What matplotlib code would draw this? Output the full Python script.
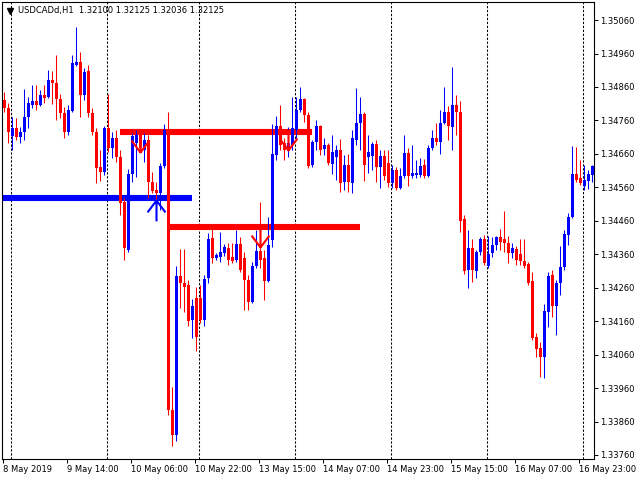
import numpy as np
import matplotlib
matplotlib.use("Agg")
import matplotlib.pyplot as plt
from matplotlib.path import Path
from matplotlib.lines import Line2D

# USDCADd H1 bars, 8 May 2019 22:00 .. 17 May 02:00
Open = [1.34821, 1.34797, 1.34713, 1.34737, 1.34710, 1.34725, 1.34770, 1.34806, 1.34818, 1.34806, 1.34836, 1.34830,
        1.34881, 1.34872, 1.34824, 1.34782, 1.34725, 1.34788, 1.34926, 1.34935, 1.34836, 1.34908, 1.34782, 1.34725,
        1.34621, 1.34606, 1.34737, 1.34677, 1.34707, 1.34651, 1.34516, 1.34373, 1.34600, 1.34692, 1.34716, 1.34672,
        1.34701, 1.34576, 1.34552, 1.34543, 1.34624, 1.34731, 1.33894, 1.33819, 1.34295, 1.34274, 1.34268, 1.34163,
        1.34229, 1.34229, 1.34163, 1.34289, 1.34408, 1.34349, 1.34352, 1.34364, 1.34378, 1.34352, 1.34343, 1.34390,
        1.34349, 1.34283, 1.34217, 1.34325, 1.34370, 1.34349, 1.34280, 1.34402, 1.34657, 1.34743, 1.34692, 1.34672,
        1.34686, 1.34731, 1.34791, 1.34824, 1.34776, 1.34627, 1.34695, 1.34743, 1.34674, 1.34686, 1.34630, 1.34651,
        1.34672, 1.34576, 1.34627, 1.34573, 1.34701, 1.34752, 1.34779, 1.34651, 1.34654, 1.34689, 1.34621, 1.34654,
        1.34633, 1.34573, 1.34612, 1.34558, 1.34594, 1.34663, 1.34594, 1.34597, 1.34597, 1.34627, 1.34594, 1.34677,
        1.34707, 1.34695, 1.34752, 1.34785, 1.34740, 1.34806, 1.34785, 1.34465, 1.34313, 1.34378, 1.34310, 1.34367,
        1.34405, 1.34325, 1.34364, 1.34387, 1.34411, 1.34405, 1.34393, 1.34364, 1.34375, 1.34361, 1.34340, 1.34331,
        1.34280, 1.34112, 1.34079, 1.34053, 1.34187, 1.34298, 1.34205, 1.34274, 1.34322, 1.34417, 1.34471, 1.34600,
        1.34588, 1.34564, 1.34579, 1.34597]
High = [1.34845, 1.34812, 1.34770, 1.34767, 1.34740, 1.34854, 1.34830, 1.34866, 1.34866, 1.34851, 1.34866, 1.34911,
        1.34908, 1.34956, 1.34839, 1.34800, 1.34806, 1.34956, 1.35039, 1.34965, 1.34917, 1.34926, 1.34797, 1.34737,
        1.34672, 1.34743, 1.34839, 1.34725, 1.34731, 1.34672, 1.34528, 1.34615, 1.34722, 1.34731, 1.34731, 1.34722,
        1.34716, 1.34606, 1.34576, 1.34633, 1.34749, 1.34785, 1.33963, 1.34325, 1.34375, 1.34375, 1.34283, 1.34226,
        1.34262, 1.34268, 1.34298, 1.34423, 1.34438, 1.34364, 1.34426, 1.34390, 1.34393, 1.34393, 1.34432, 1.34411,
        1.34367, 1.34298, 1.34337, 1.34432, 1.34516, 1.34373, 1.34471, 1.34749, 1.34773, 1.34806, 1.34707, 1.34740,
        1.34830, 1.34830, 1.34860, 1.34827, 1.34785, 1.34701, 1.34761, 1.34746, 1.34707, 1.34692, 1.34716, 1.34686,
        1.34704, 1.34657, 1.34660, 1.34731, 1.34857, 1.34830, 1.34785, 1.34716, 1.34695, 1.34701, 1.34672, 1.34672,
        1.34672, 1.34627, 1.34621, 1.34618, 1.34716, 1.34677, 1.34686, 1.34642, 1.34648, 1.34645, 1.34686, 1.34731,
        1.34752, 1.34791, 1.34860, 1.34803, 1.34920, 1.34836, 1.34818, 1.34477, 1.34432, 1.34405, 1.34373, 1.34411,
        1.34417, 1.34414, 1.34411, 1.34414, 1.34435, 1.34489, 1.34414, 1.34393, 1.34384, 1.34405, 1.34405, 1.34337,
        1.34307, 1.34124, 1.34097, 1.34211, 1.34307, 1.34313, 1.34283, 1.34384, 1.34432, 1.34483, 1.34683, 1.34680,
        1.34642, 1.34627, 1.34612, 1.34627]
Low = [1.34785, 1.34692, 1.34672, 1.34701, 1.34692, 1.34701, 1.34737, 1.34797, 1.34791, 1.34803, 1.34812, 1.34827,
       1.34809, 1.34761, 1.34767, 1.34707, 1.34716, 1.34785, 1.34923, 1.34770, 1.34821, 1.34770, 1.34716, 1.34573,
       1.34579, 1.34597, 1.34666, 1.34648, 1.34636, 1.34477, 1.34343, 1.34367, 1.34576, 1.34591, 1.34666, 1.34636,
       1.34528, 1.34543, 1.34462, 1.34492, 1.34618, 1.33879, 1.33786, 1.33801, 1.34199, 1.34187, 1.34145, 1.34109,
       1.34071, 1.34154, 1.34145, 1.34274, 1.34334, 1.34343, 1.34337, 1.34355, 1.34328, 1.34334, 1.34337, 1.34307,
       1.34193, 1.34193, 1.34214, 1.34319, 1.34319, 1.34223, 1.34277, 1.34381, 1.34642, 1.34672, 1.34642, 1.34651,
       1.34672, 1.34701, 1.34785, 1.34755, 1.34618, 1.34621, 1.34672, 1.34657, 1.34657, 1.34627, 1.34600, 1.34582,
       1.34546, 1.34552, 1.34546, 1.34543, 1.34686, 1.34672, 1.34579, 1.34603, 1.34612, 1.34576, 1.34558, 1.34582,
       1.34561, 1.34558, 1.34552, 1.34555, 1.34588, 1.34564, 1.34588, 1.34588, 1.34591, 1.34588, 1.34591, 1.34672,
       1.34686, 1.34660, 1.34749, 1.34701, 1.34672, 1.34716, 1.34426, 1.34301, 1.34259, 1.34277, 1.34289, 1.34358,
       1.34328, 1.34319, 1.34352, 1.34373, 1.34373, 1.34367, 1.34334, 1.34349, 1.34328, 1.34328, 1.34319, 1.34268,
       1.34103, 1.34053, 1.33993, 1.33990, 1.34142, 1.34172, 1.34118, 1.34238, 1.34313, 1.34387, 1.34468, 1.34576,
       1.34567, 1.34552, 1.34555, 1.34576]
Close = [1.34797, 1.34725, 1.34737, 1.34710, 1.34725, 1.34770, 1.34812, 1.34818, 1.34806, 1.34836, 1.34827, 1.34881,
         1.34872, 1.34824, 1.34782, 1.34725, 1.34791, 1.34932, 1.34935, 1.34836, 1.34905, 1.34782, 1.34725, 1.34618,
         1.34606, 1.34737, 1.34677, 1.34707, 1.34651, 1.34513, 1.34378, 1.34600, 1.34713, 1.34716, 1.34677, 1.34701,
         1.34576, 1.34549, 1.34543, 1.34624, 1.34731, 1.33894, 1.33819, 1.34295, 1.34274, 1.34262, 1.34160, 1.34205,
         1.34112, 1.34163, 1.34286, 1.34405, 1.34349, 1.34358, 1.34367, 1.34381, 1.34343, 1.34340, 1.34390, 1.34313,
         1.34283, 1.34217, 1.34325, 1.34370, 1.34343, 1.34280, 1.34387, 1.34660, 1.34743, 1.34686, 1.34672, 1.34692,
         1.34737, 1.34791, 1.34824, 1.34776, 1.34624, 1.34695, 1.34743, 1.34672, 1.34686, 1.34633, 1.34666, 1.34672,
         1.34573, 1.34627, 1.34576, 1.34707, 1.34752, 1.34779, 1.34627, 1.34666, 1.34689, 1.34621, 1.34654, 1.34594,
         1.34573, 1.34612, 1.34558, 1.34594, 1.34663, 1.34594, 1.34603, 1.34603, 1.34624, 1.34594, 1.34677, 1.34707,
         1.34695, 1.34752, 1.34785, 1.34743, 1.34806, 1.34785, 1.34459, 1.34310, 1.34378, 1.34313, 1.34367, 1.34405,
         1.34334, 1.34361, 1.34387, 1.34411, 1.34396, 1.34393, 1.34364, 1.34378, 1.34343, 1.34340, 1.34325, 1.34274,
         1.34109, 1.34076, 1.34053, 1.34190, 1.34295, 1.34205, 1.34274, 1.34322, 1.34420, 1.34471, 1.34600, 1.34582,
         1.34573, 1.34582, 1.34600, 1.34624]

TickBars = [0, 16, 32, 48, 64, 80, 96, 112, 128, 144]
TickLabels = ['8 May 2019', '9 May 14:00', '10 May 06:00', '10 May 22:00', '13 May 15:00',
              '14 May 07:00', '14 May 23:00', '15 May 15:00', '16 May 07:00', '16 May 23:00']
DayStart = [2, 26, 49, 73, 97, 121, 145]
PriceTicks = [1.33760, 1.33860, 1.33960, 1.34060, 1.34160, 1.34260, 1.34360,
              1.34460, 1.34560, 1.34660, 1.34760, 1.34860, 1.34960, 1.35060]

# horizontal levels drawn by the indicator
LineStart = [-2, 29, 41]
LineEnd = [47, 77, 89]
LinePrice = [1.34528, 1.34725, 1.34440]
LineColor = ['#0000FF', '#FF0000', '#FF0000']

# signal arrows
ArrowBar = [38, 34, 64, 71]
ArrowPrice = [1.34522, 1.34666, 1.34381, 1.34672]
ArrowUp = [True, False, False, False]

Title = "USDCADd,H1  1.32100 1.32125 1.32036 1.32125"

o = np.array(Open); h = np.array(High); l = np.array(Low); c = np.array(Close)
x = np.arange(len(o))
col = np.where(c >= o, '#0000FF', '#FF0000')

fig = plt.figure(figsize=(6.4, 4.8), dpi=100)
ax = fig.add_axes([2/640, 21/480, 592/640, 457/480])

for d in DayStart:
    ax.axvline(d - 0.25, color='black', lw=0.75, ls=(0, (2.2, 1.6)), zorder=0.5)

ax.hlines(LinePrice, LineStart, LineEnd, colors=LineColor, lw=4.4, capstyle='butt', zorder=1)

ax.vlines(x, l, h, colors=col, lw=0.75, zorder=2)
body_h = np.maximum(np.abs(c - o), 0.00002)
ax.bar(x, body_h, bottom=np.minimum(o, c), width=0.75, color=col, linewidth=0, zorder=3)

up_path = Path([(-9, -12), (0, 0), (9, -12), (0, 0), (0, -21)],
               [Path.MOVETO, Path.LINETO, Path.LINETO, Path.MOVETO, Path.LINETO])
dn_path = Path([(-9, 12), (0, 0), (9, 12), (0, 0), (0, 21)],
               [Path.MOVETO, Path.LINETO, Path.LINETO, Path.MOVETO, Path.LINETO])
for b, p, u in zip(ArrowBar, ArrowPrice, ArrowUp):
    ax.plot([b], [p], marker=up_path if u else dn_path, ms=30, mfc='none',
            mec='#0000FF' if u else '#FF0000', mew=1.5, ls='none', zorder=4)

ax.set_xlim(-0.5, 147.5)
ax.set_ylim(1.33748, 1.35114)

ax.yaxis.tick_right()
ax.set_yticks(PriceTicks)
ax.set_yticklabels(['%.5f' % p for p in PriceTicks])
ax.set_xticks([b - 0.25 for b in TickBars])
ax.set_xticklabels(TickLabels, ha='left')
ax.tick_params(axis='both', direction='out', length=3, width=0.75, labelsize=6, colors='black')
ax.tick_params(axis='y', pad=1.5)
ax.tick_params(axis='x', pad=1.0)
for s in ax.spines.values():
    s.set_linewidth(0.8)
    s.set_color('black')

fig.text(18/640, 1 - 11/480, Title, fontsize=6, va='center', ha='left', color='black')
fig.add_artist(Line2D([10/640], [1 - 11/480], marker='v', ms=4.5, color='black',
                      transform=fig.transFigure))

fig.savefig('out.png', dpi=100)
